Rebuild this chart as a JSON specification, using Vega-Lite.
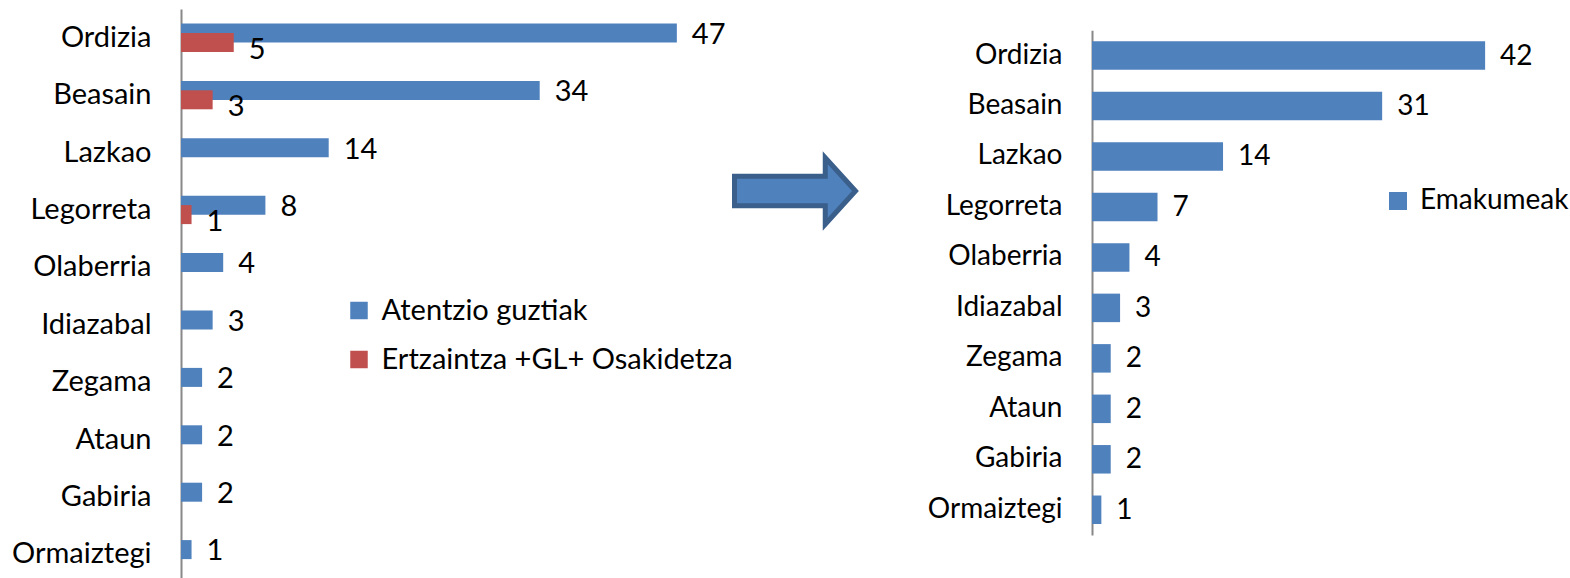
{
  "$schema": "https://vega.github.io/schema/vega-lite/v6.json",
  "background": "white",
  "padding": {"left": 11, "top": 9, "right": 0, "bottom": 0},
  "bounds": "flush",
  "spacing": 10,
  "config": {"view": {"stroke": null}, "font": "Lato", "text": {"font": "Lato", "color": "black"}},
  "datasets": {
    "left": [
      {"place": "Ordizia", "series": "Atentzio guztiak", "value": 47},
      {"place": "Beasain", "series": "Atentzio guztiak", "value": 34},
      {"place": "Lazkao", "series": "Atentzio guztiak", "value": 14},
      {"place": "Legorreta", "series": "Atentzio guztiak", "value": 8},
      {"place": "Olaberria", "series": "Atentzio guztiak", "value": 4},
      {"place": "Idiazabal", "series": "Atentzio guztiak", "value": 3},
      {"place": "Zegama", "series": "Atentzio guztiak", "value": 2},
      {"place": "Ataun", "series": "Atentzio guztiak", "value": 2},
      {"place": "Gabiria", "series": "Atentzio guztiak", "value": 2},
      {"place": "Ormaiztegi", "series": "Atentzio guztiak", "value": 1},
      {"place": "Ordizia", "series": "Ertzaintza +GL+ Osakidetza", "value": 5},
      {"place": "Beasain", "series": "Ertzaintza +GL+ Osakidetza", "value": 3},
      {"place": "Legorreta", "series": "Ertzaintza +GL+ Osakidetza", "value": 1}
    ],
    "right": [
      {"place": "Ordizia", "series": "Emakumeak", "value": 42},
      {"place": "Beasain", "series": "Emakumeak", "value": 31},
      {"place": "Lazkao", "series": "Emakumeak", "value": 14},
      {"place": "Legorreta", "series": "Emakumeak", "value": 7},
      {"place": "Olaberria", "series": "Emakumeak", "value": 4},
      {"place": "Idiazabal", "series": "Emakumeak", "value": 3},
      {"place": "Zegama", "series": "Emakumeak", "value": 2},
      {"place": "Ataun", "series": "Emakumeak", "value": 2},
      {"place": "Gabiria", "series": "Emakumeak", "value": 2},
      {"place": "Ormaiztegi", "series": "Emakumeak", "value": 1}
    ],
    "arrow": [{"item": "arrow"}]
  },
  "resolve": {"scale": {"color": "independent", "x": "independent", "y": "independent"}, "legend": {"color": "independent"}},
  "hconcat": [
    {
      "width": 316.5,
      "height": 574,
      "data": {"name": "left"},
      "encoding": {
        "y": {
          "field": "place", "type": "nominal",
          "scale": {"domain": ["Ordizia", "Beasain", "Lazkao", "Legorreta", "Olaberria", "Idiazabal", "Zegama", "Ataun", "Gabiria", "Ormaiztegi"], "paddingInner": 0, "paddingOuter": 0},
          "axis": {"title": null, "domain": true, "domainColor": "#888888", "domainWidth": 2, "ticks": false, "tickSize": 0, "labelPadding": 30, "labelFontSize": 29, "labelFont": "Lato", "labelColor": "black", "grid": false}
        },
        "x": {"field": "value", "type": "quantitative", "scale": {"domain": [0, 30], "nice": false, "zero": true}, "axis": null}
      },
      "layer": [
        {
          "transform": [{"filter": "datum.series === 'Atentzio guztiak'"}],
          "mark": {"type": "bar", "height": 19, "yOffset": -4.7},
          "encoding": {
            "color": {
              "field": "series", "type": "nominal",
              "scale": {"domain": ["Atentzio guztiak", "Ertzaintza +GL+ Osakidetza"], "range": ["#4F81BD", "#C0504D"]},
              "legend": {"orient": "none", "legendX": 163.5, "legendY": 287, "title": null, "symbolType": "square", "symbolSize": 306, "symbolStrokeWidth": 0, "labelFontSize": 29, "labelFont": "Lato", "labelColor": "black", "labelOffset": 8, "labelLimit": 0, "rowPadding": 19, "padding": 0}
            }
          }
        },
        {
          "transform": [{"filter": "datum.series !== 'Atentzio guztiak'"}],
          "mark": {"type": "bar", "height": 19, "yOffset": 4.7},
          "encoding": {
            "color": {"field": "series", "type": "nominal"}
          }
        },
        {
          "transform": [{"filter": "datum.series === 'Atentzio guztiak'"}],
          "mark": {"type": "text", "align": "left", "baseline": "middle", "dx": 15, "yOffset": -3, "fontSize": 29, "font": "Lato", "color": "black"},
          "encoding": {"text": {"field": "value", "type": "quantitative"}}
        },
        {
          "transform": [{"filter": "datum.series !== 'Atentzio guztiak'"}],
          "mark": {"type": "text", "align": "left", "baseline": "middle", "dx": 15, "yOffset": 12, "fontSize": 29, "font": "Lato", "color": "black"},
          "encoding": {"text": {"field": "value", "type": "quantitative"}}
        }
      ]
    },
    {
      "width": 574,
      "height": 364,
      "data": {"name": "arrow"},
      "mark": {"type": "point", "shape": "M-1,-0.245L0.5,-0.245L0.5,-0.55L1,0L0.5,0.55L0.5,0.245L-1,0.245Z", "size": 14641, "filled": true, "fill": "#4F81BD", "stroke": "#3A5F8B", "strokeWidth": 5, "opacity": 1, "strokeJoin": "miter"},
      "encoding": {}
    },
    {
      "width": 468,
      "height": 526,
      "data": {"name": "right"},
      "encoding": {
        "y": {
          "field": "place", "type": "nominal",
          "scale": {"domain": ["Ordizia", "Beasain", "Lazkao", "Legorreta", "Olaberria", "Idiazabal", "Zegama", "Ataun", "Gabiria", "Ormaiztegi"], "paddingInner": 0, "paddingOuter": 0, "range": [21.3, 526]},
          "axis": {"title": null, "domain": true, "domainColor": "#888888", "domainWidth": 2, "ticks": false, "tickSize": 0, "labelPadding": 30, "labelFontSize": 28, "labelFont": "Lato", "labelColor": "black", "grid": false}
        },
        "x": {"field": "value", "type": "quantitative", "scale": {"domain": [0, 50], "nice": false}, "axis": null}
      },
      "layer": [
        {
          "mark": {"type": "bar", "height": 28.5},
          "encoding": {
            "color": {
              "field": "series", "type": "nominal",
              "scale": {"domain": ["Emakumeak"], "range": ["#4F81BD"]},
              "legend": {"orient": "none", "legendX": 292, "legendY": 178, "title": null, "symbolType": "square", "symbolSize": 324, "symbolStrokeWidth": 0, "labelFontSize": 28, "labelFont": "Lato", "labelColor": "black", "labelOffset": 8, "labelLimit": 0, "padding": 0}
            }
          }
        },
        {
          "mark": {"type": "text", "align": "left", "baseline": "middle", "dx": 15, "dy": 1, "fontSize": 28, "font": "Lato", "color": "black"},
          "encoding": {"text": {"field": "value", "type": "quantitative"}}
        }
      ]
    }
  ]
}
